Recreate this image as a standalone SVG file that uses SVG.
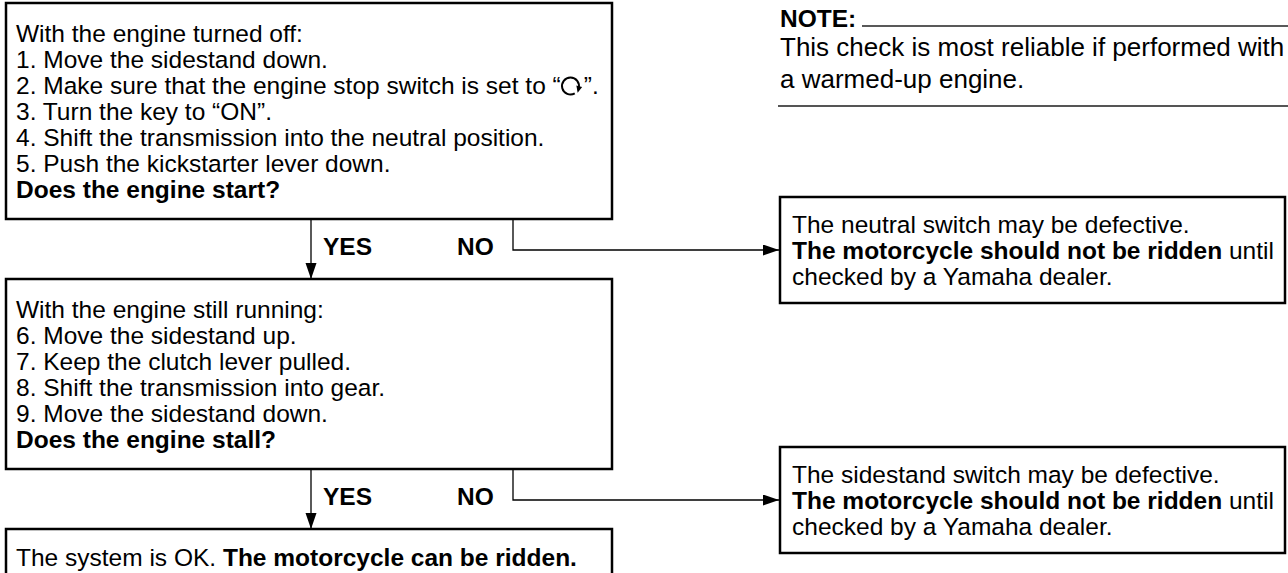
<svg xmlns="http://www.w3.org/2000/svg" width="1288" height="573" viewBox="0 0 1288 573">
<defs>
<style>
text{font-family:"Liberation Sans",Arial,Helvetica,sans-serif;font-size:24.5px;fill:#000}
.b{font-weight:bold}
.n{font-size:26px}
.box{fill:#fff;stroke:#000;stroke-width:2.5}
.conn{fill:none;stroke:#000;stroke-width:1.3}
</style>
<marker id="ah" markerUnits="userSpaceOnUse" markerWidth="18" markerHeight="12" refX="16" refY="5.5" orient="auto">
<path d="M0,0 L16,5.5 L0,11 Z" fill="#000"/>
</marker>
</defs>
<rect width="1288" height="573" fill="#fff"/>

<g id="note">
<text x="780" y="27" class="b">NOTE:</text>
<line x1="862" y1="26" x2="1288" y2="26" stroke="#222" stroke-width="1.6"/>
<text x="780" y="56" class="n">This check is most reliable if performed with</text>
<text x="780" y="88" class="n">a warmed-up engine.</text>
<line x1="778" y1="106" x2="1288" y2="106" stroke="#555" stroke-width="2"/>
</g>

<g id="connectors">
<path class="conn" d="M311,219 V279" marker-end="url(#ah)"/>
<path class="conn" d="M513,219 V250 H779" marker-end="url(#ah)"/>
<path class="conn" d="M311,469 V529" marker-end="url(#ah)"/>
<path class="conn" d="M513,469 V500 H779" marker-end="url(#ah)"/>
<text x="323" y="255" class="b">YES</text>
<text x="457" y="255" class="b">NO</text>
<text x="323" y="505" class="b">YES</text>
<text x="457" y="505" class="b">NO</text>
</g>

<g id="step1">
<rect class="box" x="6" y="3" width="606" height="216"/>
<text x="16" y="42">With the engine turned off:</text>
<text x="16" y="68">1. Move the sidestand down.</text>
<text x="16" y="94">2. Make sure that the engine stop switch is set to “<tspan dx="23">”.</tspan></text>
<g id="run-symbol">
<path d="M574.75,93.36 A8.5,8.5 0 1 1 578.71,88.2" fill="none" stroke="#000" stroke-width="2"/>
<path d="M577.67,92.8 L582.13,87.04 L576.33,85.48 Z" fill="#000"/>
</g>
<text x="16" y="120">3. Turn the key to “ON”.</text>
<text x="16" y="146">4. Shift the transmission into the neutral position.</text>
<text x="16" y="172">5. Push the kickstarter lever down.</text>
<text x="16" y="198" class="b">Does the engine start?</text>
</g>

<g id="neutral">
<rect class="box" x="780" y="197" width="505" height="106"/>
<text x="792" y="233">The neutral switch may be defective.</text>
<text x="792" y="259"><tspan class="b">The motorcycle should not be ridden</tspan> until</text>
<text x="792" y="285">checked by a Yamaha dealer.</text>
</g>

<g id="step2">
<rect class="box" x="6" y="279" width="606" height="190"/>
<text x="16" y="318">With the engine still running:</text>
<text x="16" y="344">6. Move the sidestand up.</text>
<text x="16" y="370">7. Keep the clutch lever pulled.</text>
<text x="16" y="396">8. Shift the transmission into gear.</text>
<text x="16" y="422">9. Move the sidestand down.</text>
<text x="16" y="448" class="b">Does the engine stall?</text>
</g>

<g id="sidestand">
<rect class="box" x="780" y="447" width="505" height="106"/>
<text x="792" y="483">The sidestand switch may be defective.</text>
<text x="792" y="509"><tspan class="b">The motorcycle should not be ridden</tspan> until</text>
<text x="792" y="535">checked by a Yamaha dealer.</text>
</g>

<g id="ok">
<rect class="box" x="6" y="529" width="606" height="70"/>
<text x="16" y="566">The system is OK. <tspan class="b">The motorcycle can be ridden.</tspan></text>
</g>
</svg>
